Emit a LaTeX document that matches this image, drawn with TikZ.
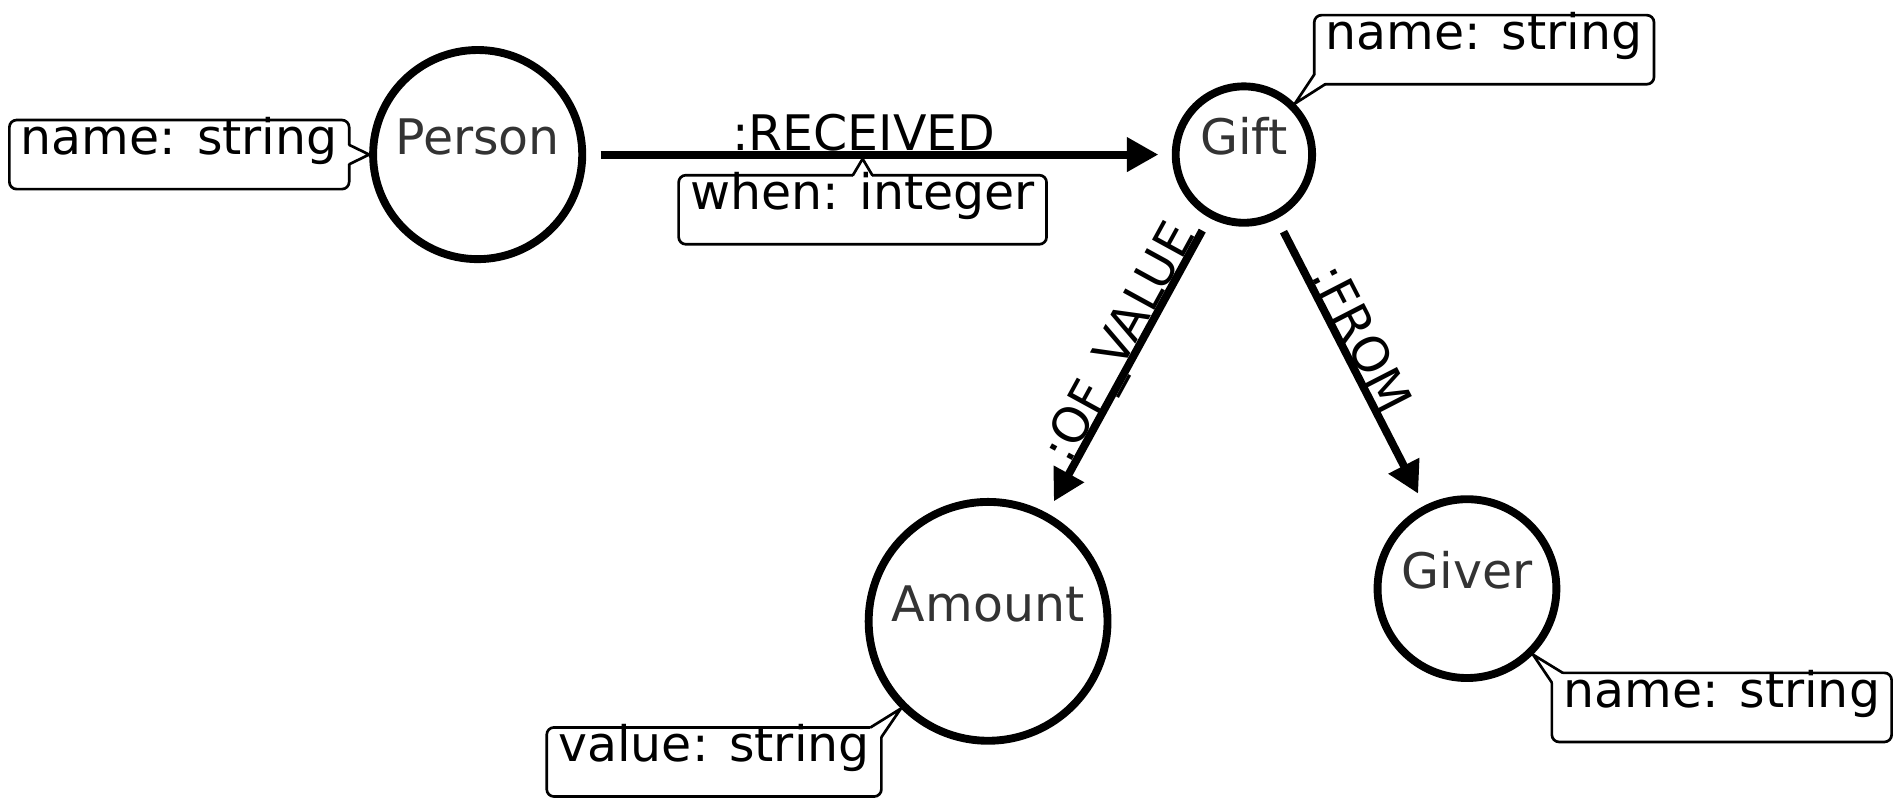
\documentclass[tikz,border=0pt]{standalone}
\usepackage{fontspec}
\setmainfont{DejaVu Sans}
\usetikzlibrary{arrows.meta,calc}
\definecolor{capgray}{HTML}{333333}
\newcommand{\dgfont}{\fontsize{40.4}{48}\selectfont}
\pgfdeclarelayer{framelayer}
\pgfdeclarelayer{patchlayer}
\pgfsetlayers{framelayer,patchlayer,main}
\begin{document}
\begin{tikzpicture}[x=1pt,y=-1pt,
  entity/.style={circle,draw=black,line width=6.5pt,inner sep=0pt},
  caption/.style={font=\dgfont,text=capgray,anchor=base,inner sep=0pt},
  prop/.style={font=\dgfont,text=black,inner xsep=9.5pt,inner ysep=0pt,text height=28.5pt,text depth=28.5pt,outer sep=0pt},
  frame/.style={draw=black,line width=2.2pt,rounded corners=6pt},
  ptr/.style={draw=black,line width=2.2pt,line cap=round,line join=miter},
  patch/.style={fill=white,draw=none},
  rel/.style={draw=black,line width=6.5pt,-{Triangle[length=26pt,width=27pt]},shorten <=12pt,shorten >=11pt},
  rellabel/.style={font=\dgfont,text=black,anchor=base,inner sep=0pt}]

\useasboundingbox (0,0) rectangle (1568,666);

% entities
\node[entity,minimum size=172.5pt] (person) at (394,127.5) {};
\node[entity,minimum size=112.5pt] (gift) at (1026,127.5) {};
\node[entity,minimum size=197pt] (amount) at (815,512.5) {};
\node[entity,minimum size=147.5pt] (giver) at (1210,485.5) {};

\node[caption] (personcap) at (person.center) {Person};
\node[caption] (giftcap) at (gift.center) {Gift};
\node[caption] (amountcap) at (amount.center) {Amount};
\node[caption] (givercap) at (giver.center) {Giver};

% relationships
\draw[rel] (person) -- (gift);
\draw[rel] (gift) -- (amount);
\draw[rel] (gift) -- (giver);

\node[rellabel] (lrec) at (712.5,124.5) {:RECEIVED};
\node[rellabel,rotate=61.3] (lval) at (934.4,288.7) {:OF\_VALUE};
\node[rellabel,rotate=-62.8] (lfrom) at (1110.8,285.9) {:FROM};

% property boxes
\node[prop,anchor=north east] (pb) at (288,99) {name: string};
\node[prop,anchor=north] (wb) at (711.5,144.5) {when: integer};
\node[prop,anchor=north west] (gb) at (1084,12.5) {name: string};
\node[prop,anchor=north east] (ab) at (727,600) {value: string};
\node[prop,anchor=north west] (gvb) at (1280,555) {name: string};

\begin{pgfonlayer}{framelayer}
  \foreach \b in {pb,wb,gb,ab,gvb}
    \draw[frame] (\b.north west) rectangle (\b.south east);
\end{pgfonlayer}

\begin{pgfonlayer}{patchlayer}
  % Person
  \path[patch] ($(pb.east)+(-1.5,-8)$) rectangle ($(pb.east)+(1.5,8)$);
  \draw[ptr] ($(pb.east)+(0,-8)$) -- (person.west) -- ($(pb.east)+(0,8)$);
  % when
  \path[patch] ($(wb.north)+(-8,-1.5)$) rectangle ($(wb.north)+(8,1.5)$);
  \draw[ptr] ($(wb.north)+(-8,0)$) -- ($(wb.north)+(0,-13.5)$) -- ($(wb.north)+(8,0)$);
  % Gift
  \path[patch] ($(gb.south west)+(-1.5,-8)$) rectangle ($(gb.south west)+(9,1.5)$);
  \draw[ptr] ($(gb.south west)+(0,-8)$) -- (gift.north east) -- ($(gb.south west)+(9,0)$);
  % Amount
  \path[patch] ($(ab.north east)+(-9,-1.5)$) rectangle ($(ab.north east)+(1.5,8)$);
  \draw[ptr] ($(ab.north east)+(-9,0)$) -- (amount.south west) -- ($(ab.north east)+(0,8)$);
  % Giver
  \path[patch] ($(gvb.north west)+(-1.5,-1.5)$) rectangle ($(gvb.north west)+(9,8)$);
  \draw[ptr] ($(gvb.north west)+(9,0)$) -- (giver.south east) -- ($(gvb.north west)+(0,8)$);
\end{pgfonlayer}

\end{tikzpicture}
\end{document}
